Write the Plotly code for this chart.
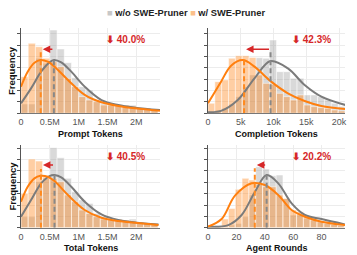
import plotly.graph_objects as go

# ---------------- data ----------------
# Prompt Tokens (millions)
PROMPT_BIN_WIDTH = 0.125
PROMPT_GRAY = [8.2, 8.2, 48.5, 44.1, 73.4, 56.7, 44.6, 31.4, 23.5, 20.6, 11.7, 8.8, 7.3, 6.8, 5.9, 7.3, 4.4, 3.8, 2.9]
PROMPT_ORANGE = [32.3, 61.7, 58.7, 48.5, 45.5, 41.1, 30.8, 23.5, 14.7, 11.7, 10.3, 7.3, 7.3, 6.8, 7.3, 6.5, 5.0, 4.4, 3.8]
PROMPT_KDE_GRAY_X = [0, 0.174, 0.349, 0.494, 0.57, 0.698, 0.872, 1.105, 1.395, 1.686, 1.977, 2.41]
PROMPT_KDE_GRAY_Y = [8.8, 22.0, 36.7, 44.9, 47.0, 44.9, 36.7, 23.5, 11.7, 7.3, 5.0, 2.9]
PROMPT_KDE_ORANGE_X = [0, 0.116, 0.233, 0.337, 0.465, 0.581, 0.814, 1.105, 1.395, 1.686, 1.977, 2.41]
PROMPT_KDE_ORANGE_Y = [23.5, 36.7, 44.6, 47.0, 45.5, 41.1, 29.4, 16.2, 9.7, 6.5, 4.4, 2.3]
PROMPT_MEDIANS = [0.57, 0.342]          # w/o, w/
PROMPT_MEDIAN_TOPS = [48.5, 54.0]
PROMPT_TICKS = [0, 0.5, 1, 1.5, 2]
PROMPT_TICK_LABELS = ["0", "0.5M", "1M", "1.5M", "2M"]

# Completion Tokens (thousands)
COMPL_BIN_WIDTH = 1.045
COMPL_GRAY = [0.9, 2.9, 4.4, 7.9, 14.7, 23.5, 33.8, 49.0, 48.5, 64.6, 36.7, 36.7, 30.8, 30.8, 16.2, 16.2, 14.7, 11.7, 8.8, 5.9]
COMPL_ORANGE = [8.8, 27.9, 29.4, 48.5, 50.8, 50.8, 49.3, 33.8, 26.4, 25.6, 17.6, 14.7, 11.7, 16.2, 7.3, 5.9, 5.0, 4.4, 2.9, 2.1]
COMPL_KDE_GRAY_X = [0, 1.99, 4.54, 7.09, 9.54, 12.19, 14.74, 17.3, 20.97]
COMPL_KDE_GRAY_Y = [0.9, 2.1, 11.7, 30.8, 46.1, 39.6, 25.0, 14.7, 7.3]
COMPL_KDE_ORANGE_X = [0, 1.99, 3.52, 5.31, 7.09, 9.64, 12.19, 14.74, 17.3, 20.97]
COMPL_KDE_ORANGE_Y = [8.8, 27.9, 42.0, 47.0, 41.1, 27.9, 17.6, 10.9, 6.5, 3.8]
COMPL_MEDIANS = [9.54, 5.5]
COMPL_MEDIAN_TOPS = [55.8, 48.5]
COMPL_TICKS = [0, 5, 10, 15, 20]
COMPL_TICK_LABELS = ["0", "5k", "10k", "15k", "20k"]

# Total Tokens (millions)
TOTAL_BIN_WIDTH = 0.125
TOTAL_GRAY = [9.7, 9.7, 40.5, 43.5, 70.5, 61.7, 43.5, 31.7, 24.4, 21.4, 12.6, 9.7, 7.6, 6.8, 5.3, 7.6, 4.7, 3.8, 2.9]
TOTAL_ORANGE = [30.2, 60.5, 58.7, 44.9, 43.5, 40.5, 28.8, 22.9, 15.6, 12.6, 9.7, 7.6, 6.8, 7.6, 6.8, 5.9, 4.7, 3.8, 2.9]
TOTAL_KDE_GRAY_X = [0, 0.174, 0.349, 0.494, 0.581, 0.698, 0.872, 1.105, 1.395, 1.686, 1.977, 2.384]
TOTAL_KDE_GRAY_Y = [9.7, 24.4, 39.1, 45.5, 46.4, 44.3, 36.1, 22.9, 11.7, 6.8, 4.7, 2.9]
TOTAL_KDE_ORANGE_X = [0, 0.116, 0.233, 0.337, 0.465, 0.581, 0.814, 1.105, 1.395, 1.686, 1.977, 2.384]
TOTAL_KDE_ORANGE_Y = [22.9, 36.1, 43.5, 45.8, 44.9, 41.1, 28.8, 15.6, 8.8, 5.9, 4.4, 2.3]
TOTAL_MEDIANS = [0.581, 0.346]
TOTAL_MEDIAN_TOPS = [47.0, 51.7]
TOTAL_TICKS = [0, 0.5, 1, 1.5, 2]
TOTAL_TICK_LABELS = ["0", "0.5M", "1M", "1.5M", "2M"]

# Agent Rounds
ROUNDS_BIN_WIDTH = 4.8
ROUNDS_GRAY = [0.0, 0.9, 0.9, 2.3, 3.8, 9.7, 28.8, 53.7, 51.7, 45.8, 46.4, 25.8, 11.2, 11.2, 8.2, 8.2, 5.9, 5.9, 2.9, 2.9]
ROUNDS_ORANGE = [0.9, 1.8, 7.6, 17.0, 33.8, 43.5, 42.0, 38.2, 36.1, 36.1, 28.8, 25.8, 15.6, 14.1, 9.7, 6.8, 5.3, 3.8, 2.9, 1.8]
ROUNDS_KDE_GRAY_X = [0, 14.3, 23.7, 33.1, 41.3, 49.5, 58.9, 68.3, 80.0, 96.5]
ROUNDS_KDE_GRAY_Y = [0.9, 2.3, 11.2, 31.7, 46.4, 39.1, 21.4, 11.2, 7.6, 2.9]
ROUNDS_KDE_ORANGE_X = [0, 9.6, 19.0, 30.8, 40.1, 49.5, 58.9, 68.3, 80.0, 96.5]
ROUNDS_KDE_ORANGE_Y = [0.9, 7.6, 28.2, 39.1, 37.6, 28.8, 15.6, 9.7, 5.3, 2.3]
ROUNDS_MEDIANS = [41.3, 32.96]
ROUNDS_MEDIAN_TOPS = [46.4, 52.3]
ROUNDS_TICKS = [0, 20, 40, 60, 80]
ROUNDS_TICK_LABELS = ["0", "20", "40", "60", "80"]

TITLES = ["Prompt Tokens", "Completion Tokens", "Total Tokens", "Agent Rounds"]
REDUCTIONS = ["40.0%", "42.3%", "40.5%", "20.2%"]
SERIES_NAMES = ["w/o SWE-Pruner", "w/ SWE-Pruner"]

# ---------------- styling / layout ----------------
W, H = 357, 255
FONT = "Liberation Sans, Arial, sans-serif"
GRAY_BAR = "rgba(160,160,160,0.4)"
ORANGE_BAR = "rgba(255,127,14,0.38)"
GRAY_LINE = "#7b7b7b"
ORANGE_LINE = "#ff7f0e"
RED = "#d62728"


def fx(p):
    return p / W


def fy(p):
    return 1 - p / H


X_DOMAINS = [[fx(21), fx(160)], [fx(208), fx(345)], [fx(21), fx(160)], [fx(208), fx(345)]]
Y_DOMAINS = [[fy(113.3), fy(28)], [fy(113.3), fy(28)], [fy(227.7), fy(145)], [fy(227.7), fy(145)]]
Y_RANGES = [75.2, 75.2, 72.9, 72.9]
X_RANGES = [2.41, 20.9, 2.41, 96.5]
ARROW_Y = [56.4, 56.4, 55.2, 55.2]
TITLE_Y = [133.5, 133.5, 248, 248]

panels = [
    (PROMPT_BIN_WIDTH, PROMPT_GRAY, PROMPT_ORANGE, PROMPT_KDE_GRAY_X, PROMPT_KDE_GRAY_Y,
     PROMPT_KDE_ORANGE_X, PROMPT_KDE_ORANGE_Y, PROMPT_MEDIANS, PROMPT_MEDIAN_TOPS,
     PROMPT_TICKS, PROMPT_TICK_LABELS),
    (COMPL_BIN_WIDTH, COMPL_GRAY, COMPL_ORANGE, COMPL_KDE_GRAY_X, COMPL_KDE_GRAY_Y,
     COMPL_KDE_ORANGE_X, COMPL_KDE_ORANGE_Y, COMPL_MEDIANS, COMPL_MEDIAN_TOPS,
     COMPL_TICKS, COMPL_TICK_LABELS),
    (TOTAL_BIN_WIDTH, TOTAL_GRAY, TOTAL_ORANGE, TOTAL_KDE_GRAY_X, TOTAL_KDE_GRAY_Y,
     TOTAL_KDE_ORANGE_X, TOTAL_KDE_ORANGE_Y, TOTAL_MEDIANS, TOTAL_MEDIAN_TOPS,
     TOTAL_TICKS, TOTAL_TICK_LABELS),
    (ROUNDS_BIN_WIDTH, ROUNDS_GRAY, ROUNDS_ORANGE, ROUNDS_KDE_GRAY_X, ROUNDS_KDE_GRAY_Y,
     ROUNDS_KDE_ORANGE_X, ROUNDS_KDE_ORANGE_Y, ROUNDS_MEDIANS, ROUNDS_MEDIAN_TOPS,
     ROUNDS_TICKS, ROUNDS_TICK_LABELS),
]

fig = go.Figure()
annotations = []
layout_axes = {}

for i, (bw, gray, orange, gkx, gky, okx, oky, meds, tops, ticks, ticklabels) in enumerate(panels):
    n = i + 1
    xa = "x" if n == 1 else f"x{n}"
    ya = "y" if n == 1 else f"y{n}"
    centers_g = [(k + 0.5) * bw for k in range(len(gray))]
    centers_o = [(k + 0.5) * bw for k in range(len(orange))]
    fig.add_trace(go.Bar(x=centers_g, y=gray, width=bw, marker=dict(color=GRAY_BAR, line=dict(color="white", width=0.5)),
                         xaxis=xa, yaxis=ya, showlegend=False, hoverinfo="skip"))
    fig.add_trace(go.Bar(x=centers_o, y=orange, width=bw, marker=dict(color=ORANGE_BAR, line=dict(color="white", width=0.5)),
                         xaxis=xa, yaxis=ya, showlegend=False, hoverinfo="skip"))
    fig.add_trace(go.Scatter(x=gkx, y=gky, mode="lines", line=dict(color=GRAY_LINE, width=2, shape="spline"),
                             xaxis=xa, yaxis=ya, showlegend=False, hoverinfo="skip"))
    fig.add_trace(go.Scatter(x=okx, y=oky, mode="lines", line=dict(color=ORANGE_LINE, width=2, shape="spline"),
                             xaxis=xa, yaxis=ya, showlegend=False, hoverinfo="skip"))
    fig.add_trace(go.Scatter(x=[meds[0], meds[0]], y=[0, tops[0]], mode="lines",
                             line=dict(color="#888888", width=2, dash="5px,3px"),
                             xaxis=xa, yaxis=ya, showlegend=False, hoverinfo="skip"))
    fig.add_trace(go.Scatter(x=[meds[1], meds[1]], y=[0, tops[1]], mode="lines",
                             line=dict(color="#ff8a1f", width=2, dash="5px,3px"),
                             xaxis=xa, yaxis=ya, showlegend=False, hoverinfo="skip"))

    xkey = "xaxis" if n == 1 else f"xaxis{n}"
    ykey = "yaxis" if n == 1 else f"yaxis{n}"
    layout_axes[xkey] = dict(domain=X_DOMAINS[i], anchor=ya, range=[0, X_RANGES[i]],
                             tickvals=ticks, ticktext=ticklabels,
                             showline=True, linecolor="#777", linewidth=1,
                             ticks="", ticklen=0,
                             showgrid=True, gridcolor="#ececec", gridwidth=1, zeroline=False,
                             automargin=False,
                             tickfont=dict(size=9, color="#555", family=FONT))
    layout_axes[ykey] = dict(domain=Y_DOMAINS[i], anchor=xa, range=[0, Y_RANGES[i]],
                             tick0=0, dtick=10, showticklabels=False,
                             showline=True, linecolor="#555", linewidth=1,
                             ticks="outside", ticklen=3, tickcolor="#555",
                             showgrid=True, gridcolor="#ececec", gridwidth=1, zeroline=False,
                             automargin=False)

    # arrow from w/o median to w/ median
    annotations.append(dict(x=meds[1], y=ARROW_Y[i], ax=meds[0], ay=ARROW_Y[i],
                            xref=xa, yref=ya, axref=xa, ayref=ya, text="",
                            showarrow=True, arrowhead=2, arrowsize=1, arrowwidth=1.5,
                            arrowcolor=RED, standoff=2))
    # reduction label
    annotations.append(dict(x=0.755, y=0.865, xref=f"{xa} domain", yref=f"{ya} domain",
                            text=f"⬇ {REDUCTIONS[i]}", showarrow=False,
                            font=dict(size=10, color=RED, family=FONT, weight="bold"),
                            xanchor="center", yanchor="middle"))
    # x-axis title
    annotations.append(dict(x=(X_DOMAINS[i][0] + X_DOMAINS[i][1]) / 2, y=fy(TITLE_Y[i]),
                            xref="paper", yref="paper", text=f"<b>{TITLES[i]}</b>", showarrow=False,
                            font=dict(size=9, color="#111", family=FONT),
                            xanchor="center", yanchor="middle"))

# y-axis titles
for yc in [70.5, 186]:
    annotations.append(dict(x=fx(11.5), y=fy(yc), xref="paper", yref="paper",
                            text="<b>Frequency</b>", textangle=-90, showarrow=False,
                            font=dict(size=9.5, color="#111", family=FONT),
                            xanchor="center", yanchor="middle"))

# legend
annotations.append(dict(x=fx(104.5), y=fy(13), xref="paper", yref="paper", xanchor="left", yanchor="middle",
                        showarrow=False,
                        text=(f"<span style='color:#c8c8c8'>■</span> <b>{SERIES_NAMES[0]}</b> "
                              f"<span style='color:#fcc08a'>■</span> <b>{SERIES_NAMES[1]}</b>"),
                        font=dict(size=9.3, color="#222", family=FONT)))

fig.update_layout(width=W, height=H, margin=dict(l=0, r=0, t=0, b=0, autoexpand=False),
                  paper_bgcolor="white", plot_bgcolor="white", barmode="overlay",
                  bargap=0, showlegend=False, annotations=annotations,
                  font=dict(family=FONT), **layout_axes)

fig.write_html("out.html", config={"displayModeBar": False, "staticPlot": True},
               post_script="document.body.style.margin='0';document.body.style.overflow='hidden';")
